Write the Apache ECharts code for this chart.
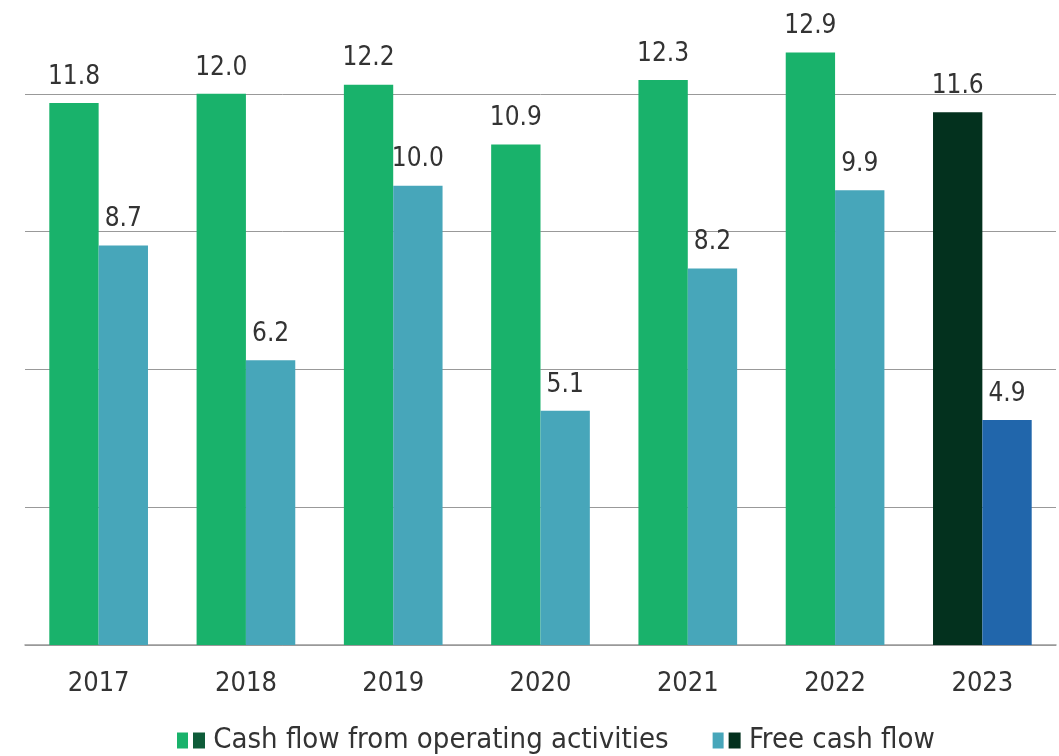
<!DOCTYPE html>
<html>
<head>
    <meta charset="UTF-8">
    <title>Cash flow</title>
    <script type="text/javascript" src="https://cdn.jsdelivr.net/npm/echarts@6/dist/echarts.min.js"></script>
</head>
<style type="text/css">
html, body { margin: 0; padding: 0; background: #fff; }
#chart { width: 1059px; height: 756px; }
</style>
<body>
    <div id="chart"></div>
</body>
</html>

<script type="text/javascript">
    // data
    var years = ['2017', '2018', '2019', '2020', '2021', '2022', '2023'];
    var operatingCF = [11.8, 12.0, 12.2, 10.9, 12.3, 12.9, 11.6];
    var freeCF = [8.7, 6.2, 10.0, 5.1, 8.2, 9.9, 4.9];
    var seriesNames = ['Cash flow from operating activities', 'Free cash flow'];

    var FONT = '"Liberation Sans Narrow", "DejaVu Sans Condensed", sans-serif';
    var green = '#19b26b', teal = '#47a6ba';
    var darkGreen = '#03311e', blue = '#2166ab';
    var legendSecond = ['#0e5c39', '#03311e'];

    // last year drawn in the darker colours
    function toItems(arr, last) {
        return arr.map(function (v, i) {
            return i === arr.length - 1 ? { value: v, itemStyle: { color: last } } : v;
        });
    }

    var myChart = echarts.init(document.getElementById('chart'));

    var labelStyle = {
        show: true,
        position: 'top',
        distance: 13,
        color: '#333',
        fontSize: 26,
        fontFamily: FONT,
        formatter: function (p) { return p.value.toFixed(1); }
    };

    var option = {
        animation: false,
        grid: { left: 25, right: 3, top: 2, bottom: 111 },
        legend: {
            left: 172,
            bottom: -4,
            itemWidth: 11,
            itemHeight: 16,
            itemGap: 44,
            icon: 'rect',
            data: seriesNames,
            formatter: function (name) {
                return (name === seriesNames[0] ? '{a|}' : '{b|}') + ' ' + name;
            },
            textStyle: {
                color: '#333',
                fontSize: 29,
                fontFamily: FONT,
                rich: {
                    a: { backgroundColor: legendSecond[0], width: 12, height: 16 },
                    b: { backgroundColor: legendSecond[1], width: 12, height: 16 }
                }
            }
        },
        xAxis: {
            type: 'category',
            data: years,
            axisTick: { show: false },
            axisLine: { lineStyle: { color: '#999', width: 1.5 } },
            axisLabel: { color: '#333', fontSize: 27, fontFamily: FONT, margin: 25 }
        },
        yAxis: {
            type: 'value',
            min: 0,
            max: 14,
            interval: 3,
            axisLabel: { show: false },
            axisLine: { show: false },
            axisTick: { show: false },
            splitLine: { showMaxLine: false, lineStyle: { color: '#999', width: 1 } }
        },
        series: [{
            name: seriesNames[0],
            type: 'bar',
            barGap: 0,
            barCategoryGap: '33%',
            itemStyle: { color: green },
            label: labelStyle,
            data: toItems(operatingCF, darkGreen)
        }, {
            name: seriesNames[1],
            type: 'bar',
            itemStyle: { color: teal },
            label: labelStyle,
            data: toItems(freeCF, blue)
        }]
    };

    myChart.setOption(option);
</script>
